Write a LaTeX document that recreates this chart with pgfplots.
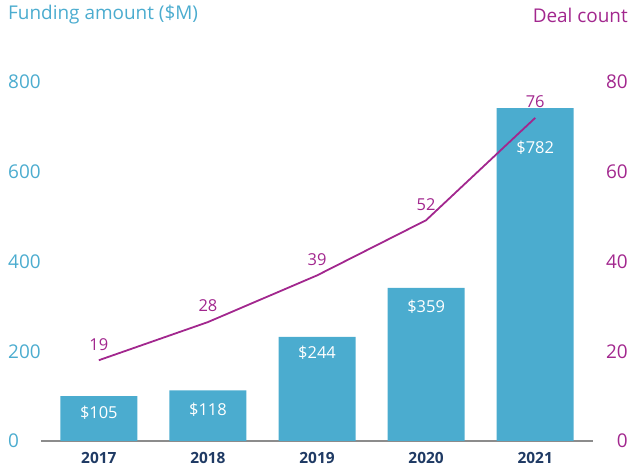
\documentclass[border=0pt]{standalone}
\usepackage{fontspec}
\setmainfont{Open Sans}
\usepackage{pgfplots}
\usepackage{pgfplotstable}
\pgfplotsset{compat=1.18}
\definecolor{barblue}{HTML}{4BACCF}
\definecolor{lblue}{HTML}{4BACCF}
\definecolor{dpurple}{HTML}{A2278E}
\definecolor{navy}{HTML}{1F3A64}
\definecolor{axgray}{HTML}{8C8C8C}
\newcommand\tickfont{\fontsize{19}{22}\selectfont}
\newcommand\smallfont{\fontsize{16.5}{19}\selectfont}
\newcommand\yearfont{\fontsize{15.5}{18}\selectfont}

\pgfplotstableread{
x y lab sh
0 100 105 17
1 113 118 19
2 232 244 16
3 341 359 19
4 742 782 40
}\bars
\pgfplotstableread{
x y lab
0 18.0 19
1 26.5 28
2 36.9 39
3 49.2 52
4 72.0 76
}\deals

\begin{document}
\begin{tikzpicture}
\begin{axis}[
  at={(41bp,35bp)}, anchor=south west,
  scale only axis, width=552bp, height=359bp,
  xmin=-0.53, xmax=4.53, ymin=0, ymax=800,
  axis x line*=bottom, axis y line*=left,
  x axis line style={draw=axgray, line width=2bp},
  y axis line style={draw=none},
  xtick={0,1,2,3,4}, xticklabels={2017,2018,2019,2020,2021},
  ytick={0,200,400,600,800},
  major tick length=0pt,
  /pgf/number format/assume math mode=true,
  yticklabel style={anchor=west, inner sep=0pt, xshift=-33bp, text=lblue, font=\tickfont},
  xticklabel style={anchor=center, inner sep=0pt, yshift=-17bp, text=navy, font=\yearfont\bfseries},
  clip=false,
]
\addplot[ybar, bar width=77bp, fill=barblue, draw=none,
  point meta=explicit,
  visualization depends on={\thisrow{sh} \as \labshift},
  nodes near coords={\$\pgfmathprintnumber{\pgfplotspointmeta}},
  every node near coord/.append style={anchor=center, inner sep=0pt, yshift=-\labshift bp, text=white, font=\smallfont},
] table[x=x, y=y, meta=lab] {\bars};
\end{axis}
\begin{axis}[
  at={(41bp,35bp)}, anchor=south west,
  scale only axis, width=552bp, height=359bp,
  xmin=-0.53, xmax=4.53, ymin=0, ymax=80,
  axis x line=none, axis y line*=right,
  y axis line style={draw=none},
  ytick={0,20,40,60,80},
  major tick length=0pt,
  /pgf/number format/assume math mode=true,
  yticklabel style={anchor=east, inner sep=0pt, xshift=35bp, text=dpurple, font=\tickfont},
  clip=false,
]
\addplot[dpurple, line width=1.8bp, mark=none,
  point meta=explicit,
  nodes near coords,
  every node near coord/.append style={anchor=center, inner sep=0pt, yshift=16bp, text=dpurple, font=\smallfont},
] table[x=x, y=y, meta=lab] {\deals};
\end{axis}
\node[anchor=west, inner sep=0pt, text=lblue, font=\tickfont] at (8bp,461bp) {Funding amount (\$M)};
\node[anchor=east, inner sep=0pt, text=dpurple, font=\tickfont] at (628bp,461bp) {Deal count};
\pgfresetboundingbox
\path[use as bounding box] (0,0) rectangle (641bp,476bp);
\end{tikzpicture}
\end{document}
